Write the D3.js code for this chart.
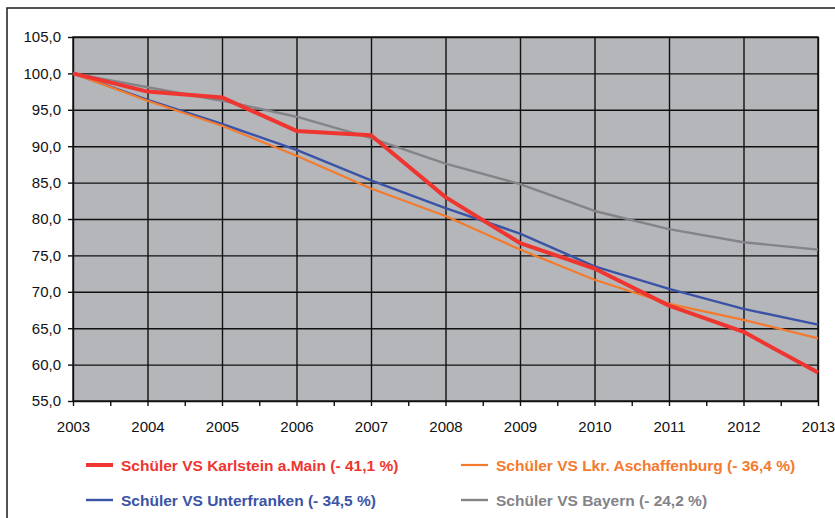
<!DOCTYPE html>
<html>
<head>
<meta charset="utf-8">
<script src="https://cdn.jsdelivr.net/npm/d3@7"></script>
<style>
  body { margin: 0; background: #fff; }
  svg { display: block; font-family: "Liberation Sans", Arial, sans-serif; }
</style>
</head>
<body>
<div id="chart"></div>
<script>
// chart data
const years = [2003, 2004, 2005, 2006, 2007, 2008, 2009, 2010, 2011, 2012, 2013];
const karlstein = [100, 97.5, 96.7, 92.1, 91.5, 83.0, 76.7, 73.2, 68.1, 64.5, 58.9];
const aschaffenburg = [100, 96.25, 92.8, 88.7, 84.2, 80.4, 75.8, 71.65, 68.35, 66.15, 63.6];
const unterfranken = [100, 96.35, 93.05, 89.5, 85.3, 81.5, 78.0, 73.5, 70.4, 67.65, 65.5];
const bayern = [100, 98.1, 96.25, 94.05, 91.1, 87.6, 84.8, 81.1, 78.6, 76.8, 75.8];
const yTicks = [55, 60, 65, 70, 75, 80, 85, 90, 95, 100, 105];
const legendLabels = [
  "Schüler VS Karlstein a.Main (- 41,1 %)",
  "Schüler VS Lkr. Aschaffenburg (- 36,4 %)",
  "Schüler VS Unterfranken (- 34,5 %)",
  "Schüler VS Bayern (- 24,2 %)"
];

const width = 835;
const height = 518;
const plot = {left: 73, right: 818, top: 37, bottom: 401};

const series = [
  {name: legendLabels[2], values: unterfranken, color: "#3a53a6", w: 2.4, lx: 86, ly: 500},
  {name: legendLabels[3], values: bayern, color: "#838388", w: 2.4, lx: 461, ly: 500},
  {name: legendLabels[1], values: aschaffenburg, color: "#f47a2e", w: 2.2, lx: 461, ly: 465},
  {name: legendLabels[0], values: karlstein, color: "#ef3530", w: 4, lx: 86, ly: 465}
];

const svg = d3.select("#chart")
  .append("svg")
  .attr("width", width)
  .attr("height", height);

// outer frame (right and bottom edges fall outside the picture)
svg.append("rect")
  .attr("x", 7).attr("y", 8)
  .attr("width", 900).attr("height", 600)
  .attr("fill", "none")
  .attr("stroke", "#1a1a1a")
  .attr("stroke-width", 1.5);

const x = d3.scaleLinear()
  .domain([2003, 2013])
  .range([plot.left, plot.right]);

const y = d3.scaleLinear()
  .domain([55, 105])
  .range([plot.bottom, plot.top]);

// plot background
svg.append("rect")
  .attr("x", plot.left).attr("y", plot.top)
  .attr("width", plot.right - plot.left)
  .attr("height", plot.bottom - plot.top)
  .attr("fill", "#b5b6ba");

// grid lines
svg.append("g")
  .attr("class", "grid")
  .attr("transform", `translate(${plot.left},0)`)
  .call(d3.axisLeft(y).tickValues(yTicks).tickSize(-(plot.right - plot.left)).tickFormat(""))
  .call(g => g.select(".domain").remove());

svg.append("g")
  .attr("class", "grid")
  .attr("transform", `translate(0,${plot.bottom})`)
  .call(d3.axisBottom(x).tickValues(years).tickSize(-(plot.bottom - plot.top)).tickFormat(""))
  .call(g => g.select(".domain").remove());

svg.selectAll(".grid line")
  .attr("stroke", "#111")
  .attr("stroke-width", 1.4);

svg.append("rect")
  .attr("x", plot.left).attr("y", plot.top)
  .attr("width", plot.right - plot.left)
  .attr("height", plot.bottom - plot.top)
  .attr("fill", "none")
  .attr("stroke", "#111")
  .attr("stroke-width", 1.4);

// axes
const commaFormat = d => d.toFixed(1).replace(".", ",");

svg.append("g")
  .attr("transform", `translate(${plot.left},0)`)
  .call(d3.axisLeft(y).tickValues(yTicks).tickSize(5).tickPadding(7).tickFormat(commaFormat))
  .call(g => g.select(".domain").remove())
  .attr("font-size", "15px")
  .attr("font-family", "Liberation Sans, Arial, sans-serif");

const halfYears = d3.range(2003, 2013.01, 0.5);
svg.append("g")
  .attr("transform", `translate(0,${plot.bottom})`)
  .call(d3.axisBottom(x).tickValues(halfYears).tickSize(5).tickPadding(15)
    .tickFormat(d => Number.isInteger(d) ? d : ""))
  .call(g => g.select(".domain").remove())
  .attr("font-size", "15px")
  .attr("font-family", "Liberation Sans, Arial, sans-serif");

svg.selectAll(".tick line").filter(function() { return !this.parentNode.parentNode.classList.contains("grid"); })
  .attr("stroke", "#111")
  .attr("stroke-width", 1.4);
svg.selectAll(".tick text").attr("fill", "#111");

// lines
const line = d3.line()
  .x((d, i) => x(years[i]))
  .y(d => y(d));

svg.selectAll(".series")
  .data(series)
  .enter()
  .append("path")
    .attr("class", "series")
    .attr("d", d => line(d.values))
    .attr("fill", "none")
    .attr("stroke", d => d.color)
    .attr("stroke-width", d => d.w)
    .attr("stroke-linejoin", "round");

// legend
const legend = svg.selectAll(".legend")
  .data(series)
  .enter()
  .append("g")
    .attr("class", "legend")
    .attr("transform", d => `translate(${d.lx},${d.ly})`);

legend.append("line")
  .attr("x1", 0).attr("x2", 27)
  .attr("stroke", d => d.color)
  .attr("stroke-width", d => d.w);

legend.append("text")
  .attr("x", 35)
  .attr("dy", "0.36em")
  .attr("font-size", "15.5px")
  .attr("font-weight", "bold")
  .attr("fill", d => d.color)
  .text(d => d.name);
</script>
</body>
</html>
